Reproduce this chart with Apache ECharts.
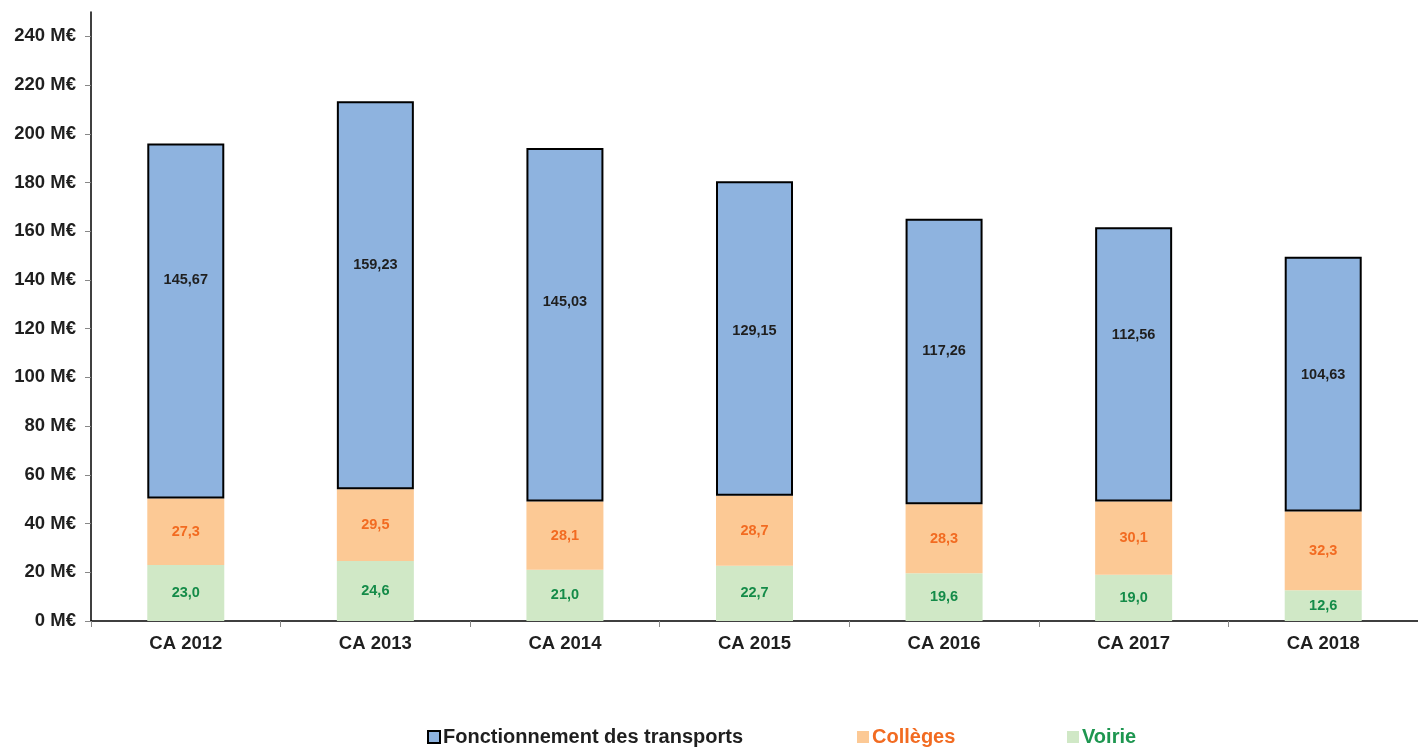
<!DOCTYPE html>
<html>
<head>
<meta charset="utf-8">
<script src="https://cdn.jsdelivr.net/npm/echarts@6/dist/echarts.min.js"></script>
<style>
  html, body { margin: 0; padding: 0; background: #fff; }
  #main { width: 1418px; height: 749px; }
</style>
</head>
<body>
<div id="main"></div>
<script>
// donnees du graphique
var categories = ['CA 2012', 'CA 2013', 'CA 2014', 'CA 2015', 'CA 2016', 'CA 2017', 'CA 2018'];
var transports = [145.67, 159.23, 145.03, 129.15, 117.26, 112.56, 104.63];
var colleges = [27.3, 29.5, 28.1, 28.7, 28.3, 30.1, 32.3];
var voirie = [23.0, 24.6, 21.0, 22.7, 19.6, 19.0, 12.6];
var yTicks = [0, 20, 40, 60, 80, 100, 120, 140, 160, 180, 200, 220, 240];
// decalage vertical des etiquettes bleues (comme dans l'original)
var transportsLabelShift = [-41, -30, -23, -7, -10, -29, -9];

var myChart = echarts.init(document.getElementById('main'));
var fontFam = '"Liberation Sans", Arial, sans-serif';

function fr(v, d) {
    return v.toFixed(d).replace('.', ',');
}

var transportsData = transports.map(function (v, i) {
    return { value: v, label: { offset: [0, transportsLabelShift[i]] } };
});

// une legende par serie pour caler les positions
function leg(name, left, color) {
    return {
        top: 722,
        left: left,
        itemWidth: 12,
        itemHeight: 12,
        icon: 'rect',
        data: [name],
        textStyle: { fontSize: 20, fontWeight: 'bold', fontFamily: fontFam, color: color, padding: [0, 0, 0, -2] }
    };
}

var option = {
    animation: false,
    textStyle: { fontFamily: fontFam },
    grid: { left: 91, right: -9, top: 12, bottom: 128 },
    legend: [
        leg('Fonctionnement des transports', 422, '#1f1f1f'),
        leg('Collèges', 852, '#F26B21'),
        leg('Voirie', 1062, '#1E9650')
    ],
    xAxis: {
        type: 'category',
        data: categories,
        axisLine: { lineStyle: { color: '#000', width: 1.5 } },
        axisTick: { show: true, length: 6, lineStyle: { color: '#888' } },
        axisLabel: { fontSize: 18.5, fontWeight: 'bold', color: '#1f1f1f', margin: 13, fontFamily: fontFam }
    },
    yAxis: {
        type: 'value',
        min: 0,
        max: 250,
        interval: 10,
        splitLine: { show: false },
        axisLine: { show: true, lineStyle: { color: '#000', width: 1.5 } },
        axisTick: { show: true, length: 6, lineStyle: { color: '#888' }, customValues: yTicks },
        axisLabel: {
            customValues: yTicks,
            fontSize: 18.5, fontWeight: 'bold', color: '#1f1f1f', margin: 15, fontFamily: fontFam,
            formatter: function (v) { return v + ' M€'; }
        }
    },
    series: [
        {
            name: 'Voirie',
            type: 'bar',
            stack: 'total',
            barWidth: 77,
            data: voirie,
            itemStyle: { color: '#D0E8C6' },
            label: {
                show: true, position: 'inside', color: '#148B48', fontSize: 14.5, fontWeight: 'bold',
                formatter: function (p) { return fr(p.value, 1); }
            }
        },
        {
            name: 'Collèges',
            type: 'bar',
            stack: 'total',
            data: colleges,
            itemStyle: { color: '#FCC995' },
            label: {
                show: true, position: 'inside', color: '#F26B21', fontSize: 14.5, fontWeight: 'bold',
                formatter: function (p) { return fr(p.value, 1); }
            }
        },
        {
            name: 'Fonctionnement des transports',
            type: 'bar',
            stack: 'total',
            data: transportsData,
            itemStyle: { color: '#8EB3DF', borderColor: '#000', borderWidth: 2 },
            label: {
                show: true, position: 'inside', color: '#1f1f1f', fontSize: 14.5, fontWeight: 'bold',
                formatter: function (p) { return fr(p.value, 2); }
            }
        }
    ]
};

myChart.setOption(option);
</script>
</body>
</html>
